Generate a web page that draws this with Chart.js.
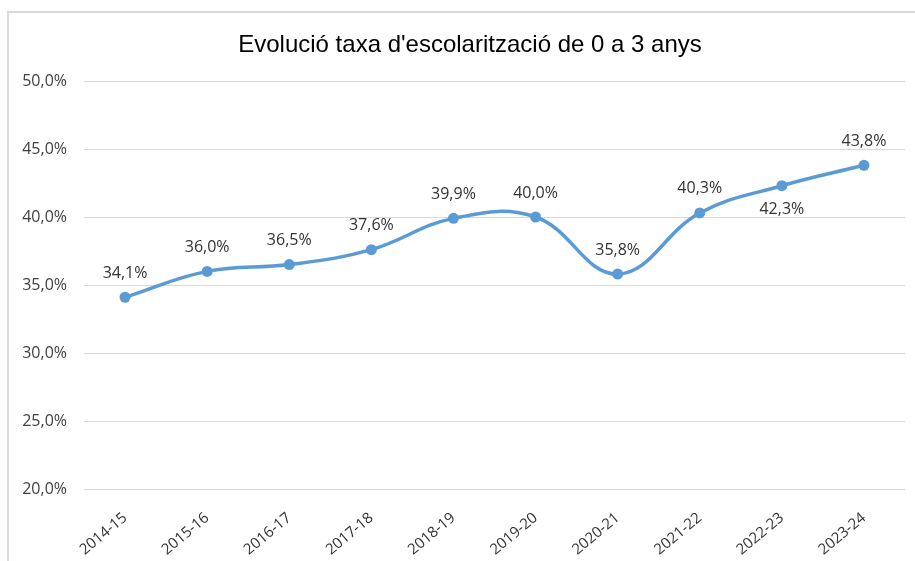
<!DOCTYPE html>
<html>
<head>
<meta charset="utf-8">
<script src="https://cdn.jsdelivr.net/npm/chart.js@4/dist/chart.umd.min.js"></script>
<style>
  html, body { margin: 0; padding: 0; background: #fff; overflow: hidden; }
  #marc { position: absolute; left: 7px; top: 11px; width: 1000px; height: 700px; border: 2px solid #d9d9d9; }
  #wrap { position: absolute; left: 0; top: 0; width: 915px; height: 561px; }
  #titol { position: absolute; left: 0; top: 30px; width: 940px; text-align: center;
           font: 24px/28px 'Liberation Sans', Arial, sans-serif; color: #000; }
</style>
</head>
<body>
<div id="marc"></div>
<div id="wrap"><canvas id="grafic" width="915" height="561"></canvas></div>
<div id="titol"></div>
<script>
const cursos = ['2014-15', '2015-16', '2016-17', '2017-18', '2018-19', '2019-20', '2020-21', '2021-22', '2022-23', '2023-24'];
const taxa = [34.1, 36.0, 36.5, 37.6, 39.9, 40.0, 35.8, 40.3, 42.3, 43.8];
const titol = "Evolució taxa d'escolarització de 0 a 3 anys";

const blau = '#5b9bd5';

function fmtPct(v) {
  return v.toFixed(1).replace('.', ',') + '%';
}

document.getElementById('titol').textContent = titol;

// etiquetes de dades (sense plugin extern)
const etiquetes = {
  id: 'etiquetes',
  afterDatasetsDraw(chart, args, opts) {
    const ctx = chart.ctx;
    const meta = chart.getDatasetMeta(0);
    ctx.save();
    ctx.font = opts.font;
    ctx.fillStyle = opts.color;
    ctx.textAlign = 'center';
    ctx.textBaseline = 'middle';
    meta.data.forEach((pt, i) => {
      const sota = opts.sota.includes(i);
      const y = sota ? pt.y + opts.offset : pt.y - opts.offset;
      ctx.fillText(fmtPct(taxa[i]), pt.x, y);
    });
    ctx.restore();
  }
};

const ctx = document.getElementById('grafic').getContext('2d');
new Chart(ctx, {
  type: 'line',
  data: {
    labels: cursos,
    datasets: [{
      data: taxa,
      borderColor: blau,
      backgroundColor: blau,
      borderWidth: 3.5,
      pointRadius: 5.5,
      pointHoverRadius: 5.5,
      pointBorderWidth: 0,
      tension: 0.4,
      fill: false
    }]
  },
  options: {
    responsive: false,
    animation: false,
    devicePixelRatio: 1,
    layout: { padding: { left: 10, right: 10, top: 81, bottom: 0 } },
    plugins: {
      legend: { display: false },
      tooltip: { enabled: false },
      title: { display: false },
      etiquetes: {
        font: "16px 'Open Sans'",
        color: '#333333',
        offset: 24,
        sota: [8]
      }
    },
    scales: {
      x: {
        offset: true,
        grid: { display: false, drawTicks: false },
        border: { display: false },
        ticks: {
          color: '#333333',
          font: { family: "'Open Sans'", size: 15 },
          maxRotation: 40,
          minRotation: 40,
          padding: 20,
          autoSkip: false
        },
        afterFit(scale) { scale.height = 72; }
      },
      y: {
        min: 20,
        max: 50,
        grid: { color: '#d9d9d9', drawTicks: false, lineWidth: 1 },
        border: { display: false },
        ticks: {
          stepSize: 5,
          color: '#404040',
          font: { family: "'Open Sans'", size: 16 },
          padding: 17,
          callback: v => fmtPct(v)
        },
        afterFit(scale) { scale.width = 74; }
      }
    }
  },
  plugins: [etiquetes]
});
</script>
</body>
</html>
